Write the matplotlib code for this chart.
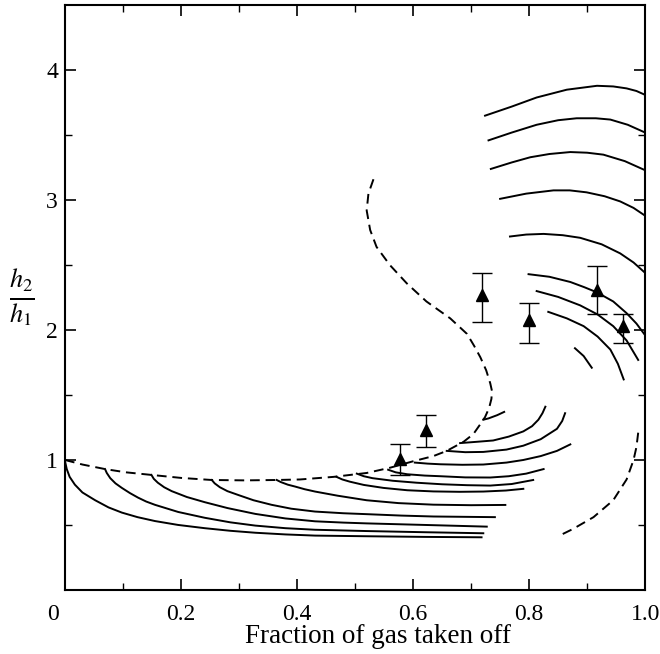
import numpy as np
import matplotlib.pyplot as plt
import matplotlib.transforms as mtransforms

# dashed envelope (S-shaped) curve
env_x = [0.0, 0.03, 0.069, 0.105, 0.149, 0.2, 0.253, 0.31, 0.365, 0.405, 0.463, 0.52, 0.56,
         0.60, 0.635, 0.658, 0.687, 0.704, 0.715, 0.724, 0.731, 0.735, 0.736, 0.733, 0.726,
         0.716, 0.705, 0.693, 0.664, 0.623, 0.589, 0.56, 0.537, 0.526, 0.52, 0.523, 0.534]
env_y = [1.0, 0.965, 0.93, 0.905, 0.885, 0.862, 0.846, 0.843, 0.846, 0.85, 0.87, 0.90, 0.94,
         0.99, 1.03, 1.07, 1.14, 1.20, 1.27, 1.33, 1.40, 1.47, 1.53, 1.59, 1.69,
         1.79, 1.88, 1.97, 2.09, 2.22, 2.36, 2.50, 2.64, 2.77, 2.92, 3.05, 3.19]

# dashed curve lower right
dr_x = [0.988, 0.985, 0.98, 0.968, 0.945, 0.911, 0.876, 0.851]
dr_y = [1.21, 1.10, 1.0, 0.85, 0.69, 0.56, 0.47, 0.415]

# lower family of solid curves
low_x = [
    [0.0, 0.003, 0.008, 0.017, 0.03, 0.052, 0.075, 0.098, 0.125, 0.155, 0.195, 0.241,
     0.285, 0.328, 0.38, 0.431, 0.52, 0.62, 0.718],
    [0.069, 0.072, 0.078, 0.087, 0.098, 0.112, 0.126, 0.14, 0.155, 0.195, 0.241, 0.285,
     0.328, 0.38, 0.431, 0.52, 0.62, 0.721],
    [0.149, 0.153, 0.16, 0.171, 0.184, 0.21, 0.241, 0.28, 0.328, 0.38, 0.431, 0.48,
     0.52, 0.62, 0.727],
    [0.253, 0.258, 0.267, 0.28, 0.299, 0.325, 0.356, 0.39, 0.431, 0.48, 0.52, 0.58,
     0.635, 0.741],
    [0.365, 0.372, 0.384, 0.397, 0.413, 0.431, 0.47, 0.52, 0.575, 0.635, 0.70, 0.759],
    [0.468, 0.478, 0.491, 0.515, 0.549, 0.59, 0.635, 0.68, 0.721, 0.76, 0.79],
    [0.503, 0.515, 0.53, 0.565, 0.606, 0.65, 0.693, 0.733, 0.77, 0.807],
    [0.557, 0.57, 0.59, 0.62, 0.647, 0.69, 0.733, 0.765, 0.795, 0.825],
    [0.603, 0.625, 0.647, 0.685, 0.721, 0.761, 0.79, 0.82, 0.848, 0.871],
    [0.658, 0.69, 0.721, 0.761, 0.79, 0.82, 0.848, 0.857, 0.862],
    [0.681, 0.71, 0.738, 0.765, 0.79, 0.805, 0.816, 0.823, 0.828],
    [0.721, 0.73, 0.745, 0.757],
]
low_y = [
    [0.99, 0.93, 0.87, 0.81, 0.75, 0.69, 0.635, 0.595, 0.56, 0.53, 0.50, 0.475,
     0.455, 0.44, 0.427, 0.418, 0.413, 0.408, 0.405],
    [0.93, 0.90, 0.86, 0.82, 0.785, 0.745, 0.71, 0.68, 0.655, 0.60, 0.555, 0.52,
     0.495, 0.475, 0.463, 0.453, 0.444, 0.436],
    [0.885, 0.855, 0.825, 0.79, 0.76, 0.715, 0.675, 0.63, 0.585, 0.55, 0.528, 0.518,
     0.512, 0.50, 0.487],
    [0.846, 0.82, 0.79, 0.76, 0.73, 0.69, 0.655, 0.625, 0.603, 0.59, 0.583, 0.572,
     0.565, 0.56],
    [0.846, 0.83, 0.81, 0.795, 0.775, 0.757, 0.725, 0.69, 0.668, 0.656, 0.652, 0.654],
    [0.87, 0.85, 0.833, 0.808, 0.785, 0.767, 0.758, 0.755, 0.757, 0.765, 0.778],
    [0.895, 0.875, 0.86, 0.84, 0.825, 0.813, 0.806, 0.803, 0.815, 0.846],
    [0.925, 0.905, 0.89, 0.88, 0.875, 0.866, 0.865, 0.875, 0.895, 0.93],
    [0.98, 0.972, 0.967, 0.963, 0.965, 0.98, 1.00, 1.03, 1.07, 1.12],
    [1.07, 1.06, 1.062, 1.08, 1.11, 1.16, 1.24, 1.30, 1.36],
    [1.13, 1.14, 1.15, 1.18, 1.22, 1.26, 1.31, 1.36, 1.41],
    [1.31, 1.32, 1.345, 1.37],
]

# upper family of arcs
up_x = [
    [0.724, 0.77, 0.813, 0.865, 0.917, 0.945, 0.968, 0.985, 1.0],
    [0.73, 0.77, 0.813, 0.85, 0.882, 0.915, 0.94, 0.97, 1.0],
    [0.734, 0.77, 0.802, 0.835, 0.871, 0.90, 0.928, 0.965, 1.0],
    [0.75, 0.795, 0.842, 0.87, 0.899, 0.93, 0.957, 0.98, 1.0],
    [0.767, 0.795, 0.825, 0.858, 0.888, 0.925, 0.957, 0.98, 1.0],
    [0.799, 0.835, 0.871, 0.895, 0.917, 0.945, 0.968, 0.985, 1.0],
    [0.813, 0.85, 0.888, 0.918, 0.945, 0.968, 0.988],
    [0.833, 0.865, 0.894, 0.918, 0.94, 0.953, 0.963],
    [0.879, 0.894, 0.908],
]
up_y = [
    [3.65, 3.72, 3.79, 3.85, 3.88, 3.875, 3.86, 3.84, 3.81],
    [3.46, 3.52, 3.58, 3.615, 3.63, 3.63, 3.62, 3.58, 3.52],
    [3.24, 3.29, 3.33, 3.355, 3.37, 3.365, 3.35, 3.30, 3.23],
    [3.01, 3.05, 3.075, 3.075, 3.06, 3.03, 2.99, 2.94, 2.88],
    [2.72, 2.735, 2.74, 2.73, 2.71, 2.66, 2.59, 2.52, 2.44],
    [2.43, 2.41, 2.37, 2.33, 2.29, 2.22, 2.13, 2.05, 1.96],
    [2.30, 2.255, 2.19, 2.12, 2.03, 1.92, 1.77],
    [2.14, 2.09, 2.03, 1.95, 1.85, 1.74, 1.62],
    [1.86, 1.80, 1.71],
]

# measured points
pt_x = [0.577, 0.623, 0.718, 0.80, 0.917, 0.961]
pt_y = [1.01, 1.23, 2.27, 2.08, 2.31, 2.03]
pt_lo = [0.885, 1.10, 2.06, 1.90, 2.12, 1.90]
pt_hi = [1.12, 1.35, 2.44, 2.21, 2.49, 2.12]

plt.rcParams['font.family'] = ['Liberation Serif', 'DejaVu Serif']
plt.rcParams['mathtext.fontset'] = 'stix'

fig = plt.figure(figsize=(6.6, 6.54), dpi=100)
ax = fig.add_axes([0.0985, 0.098, 0.879, 0.894])

lw = 1.4
ax.plot(env_x, env_y, 'k', lw=lw, ls=(0, (5, 3)))
ax.plot(dr_x, dr_y, 'k', lw=lw, ls=(0, (5, 3)))
for xs, ys in zip(low_x, low_y):
    ax.plot(xs, ys, 'k', lw=lw)
for xs, ys in zip(up_x, up_y):
    ax.plot(xs, ys, 'k', lw=lw)

err = [np.array(pt_y) - np.array(pt_lo), np.array(pt_hi) - np.array(pt_y)]
ax.errorbar(pt_x, pt_y, yerr=err, fmt='^', color='k', ms=9, capsize=7,
            elinewidth=1.0, capthick=1.0)

ax.set_xlim(0, 1.0)
ax.set_ylim(0, 4.5)
ax.set_xticks([0, 0.2, 0.4, 0.6, 0.8, 1.0])
ax.set_xticklabels(['0', '0.2', '0.4', '0.6', '0.8', '1.0'])
ax.set_xticks([0.1, 0.3, 0.5, 0.7, 0.9], minor=True)
ax.set_yticks([1, 2, 3, 4])
ax.set_yticks([0.5, 1.5, 2.5, 3.5], minor=True)
ax.tick_params(which='both', direction='in', top=True, right=True, labelsize=17)
ax.tick_params(axis='x', pad=10)
ax.tick_params(axis='y', pad=5)
ax.tick_params(which='major', length=8, width=1.2)
ax.tick_params(which='minor', length=5, width=1.0)
for s in ax.spines.values():
    s.set_linewidth(1.5)

# origin label sits a bit left of the corner
lab0 = ax.get_xticklabels()[0]
lab0.set_transform(lab0.get_transform() +
                   mtransforms.ScaledTranslation(-0.12, 0, fig.dpi_scale_trans))

ax.set_xlabel('Fraction of gas taken off', fontsize=19.5)
ax.xaxis.set_label_coords(0.54, -0.058)
ax.text(-0.075, 2.25, r'$\frac{h_2}{h_1}$', fontsize=27, ha='center', va='center',
        transform=ax.transData, clip_on=False)

fig.savefig('out.png', dpi=100)
